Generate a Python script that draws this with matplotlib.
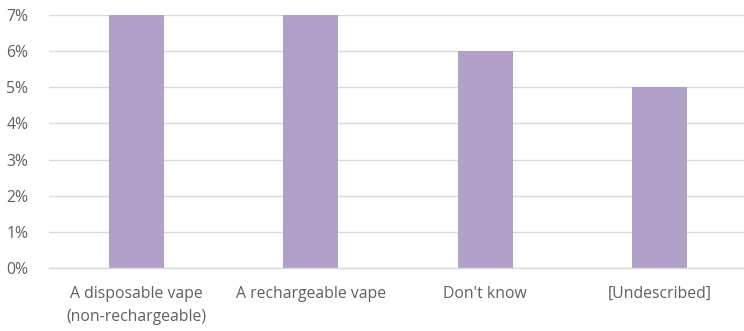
import matplotlib.pyplot as plt
from matplotlib.ticker import FuncFormatter

categories = ["A disposable vape\n(non-rechargeable)", "A rechargeable vape", "Don't know", "[Undescribed]"]
values = [0.07, 0.07, 0.06, 0.05]
yticks = [0.00, 0.01, 0.02, 0.03, 0.04, 0.05, 0.06, 0.07]

plt.rcParams['font.family'] = ['Open Sans', 'DejaVu Sans']

W, H = 744, 331
fig = plt.figure(figsize=(W / 100, H / 100), dpi=100)
left, bottom, top = 49, 63, 15
width = 698
ax = fig.add_axes([left / W, bottom / H, width / W, (H - bottom - top) / H])

x = range(len(categories))
ax.bar(x, values, width=0.315, color='#B1A0C7', zorder=2)

ax.set_xlim(-0.5, len(categories) - 0.5)
ax.set_ylim(0, 0.07)
ax.set_yticks(yticks)
ax.yaxis.set_major_formatter(FuncFormatter(lambda v, _: f"{v * 100:.0f}%"))
ax.grid(axis='y', color='#D9D9D9', linewidth=1, zorder=0)
ax.set_xticks(list(x))
ax.set_xticklabels(categories, linespacing=1.55)

for side in ['top', 'right', 'left']:
    ax.spines[side].set_visible(False)
ax.spines['bottom'].set_color('#D9D9D9')
ax.spines['bottom'].set_linewidth(1)
ax.tick_params(axis='both', length=0, colors='#606060', labelsize=11.3)
ax.tick_params(axis='x', pad=13)
ax.tick_params(axis='y', pad=15)

fig.savefig('out.png', dpi=100)
